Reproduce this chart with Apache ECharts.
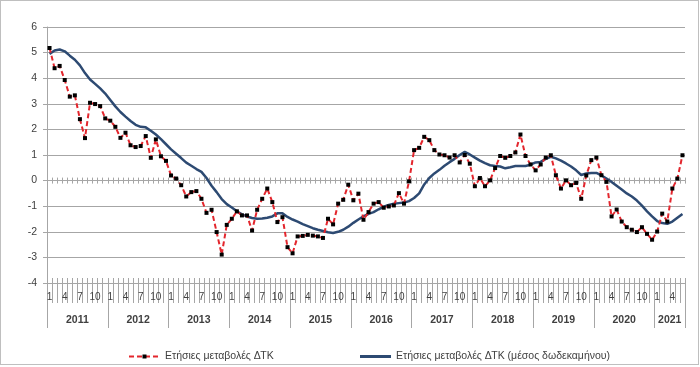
<!DOCTYPE html>
<html><head><meta charset="utf-8">
<script src="https://cdn.jsdelivr.net/npm/echarts@6/dist/echarts.min.js"></script>
<style>
html,body{margin:0;padding:0;background:#fff}
#c{width:700px;height:367px;position:absolute;left:0;top:0}
#frame{position:absolute;left:0;top:0;width:697px;height:363px;border:1px solid #bfbfbf;pointer-events:none}
</style>
</head><body><div id="c"></div><div id="frame"></div>
<script>
const years = ['2011','2012','2013','2014','2015','2016','2017','2018','2019','2020','2021'];
const monthsPerYear = [12,12,12,12,12,12,12,12,12,12,6];
const monthNames = ['1','2','3','4','5','6','7','8','9','10','11','12'];
const yMin = -4, yMax = 6, yStep = 1;

// Ετήσιες μεταβολές ΔΤΚ (monthly, Jan 2011 - Jun 2021)
const inflation = [
  5.18, 4.39, 4.48, 3.93, 3.28, 3.33, 2.40, 1.66, 3.04, 2.99, 2.91, 2.43,
  2.34, 2.10, 1.67, 1.87, 1.38, 1.31, 1.35, 1.74, 0.89, 1.61, 0.95, 0.77,
  0.20, 0.08, -0.18, -0.62, -0.45, -0.41, -0.71, -1.26, -1.14, -2.01, -2.89, -1.73,
  -1.49, -1.20, -1.36, -1.36, -1.95, -1.14, -0.71, -0.31, -0.84, -1.62, -1.43, -2.60,
  -2.84, -2.18, -2.16, -2.12, -2.15, -2.18, -2.24, -1.49, -1.71, -0.90, -0.75, -0.16,
  -0.77, -0.51, -1.53, -1.23, -0.90, -0.84, -1.06, -1.01, -0.97, -0.49, -0.90, -0.03,
  1.19, 1.28, 1.71, 1.58, 1.19, 1.02, 0.99, 0.90, 0.99, 0.71, 1.00, 0.66,
  -0.22, 0.10, -0.22, 0.01, 0.49, 0.96, 0.89, 0.96, 1.10, 1.80, 0.96, 0.63,
  0.40, 0.63, 0.90, 0.99, 0.21, -0.31, 0.01, -0.18, -0.09, -0.71, 0.20, 0.80,
  0.90, 0.21, -0.05, -1.40, -1.13, -1.60, -1.82, -1.92, -2.01, -1.82, -2.08, -2.31,
  -1.99, -1.29, -1.60, -0.31, 0.08, 0.99
];
// Ετήσιες μεταβολές ΔΤΚ (μέσος δωδεκαμήνου)
const avg12 = [
  4.95, 5.08, 5.12, 5.05, 4.88, 4.72, 4.50, 4.20, 3.95, 3.78, 3.60, 3.40,
  3.15, 2.90, 2.68, 2.50, 2.33, 2.18, 2.10, 2.08, 1.95, 1.80, 1.62, 1.42,
  1.22, 1.05, 0.88, 0.70, 0.58, 0.45, 0.34, 0.10, -0.20, -0.45, -0.72, -0.92,
  -1.05, -1.20, -1.32, -1.40, -1.46, -1.49, -1.48, -1.45, -1.40, -1.28, -1.28, -1.42,
  -1.52, -1.60, -1.70, -1.78, -1.86, -1.92, -1.97, -2.02, -2.05, -2.00, -1.92, -1.80,
  -1.65, -1.52, -1.40, -1.30, -1.23, -1.12, -1.02, -0.95, -0.90, -0.88, -0.86, -0.80,
  -0.68, -0.50, -0.15, 0.10, 0.28, 0.42, 0.58, 0.72, 0.85, 1.00, 1.12, 1.02,
  0.90, 0.78, 0.68, 0.60, 0.57, 0.55, 0.48, 0.52, 0.57, 0.57, 0.57, 0.62,
  0.71, 0.73, 0.85, 0.93, 0.87, 0.78, 0.67, 0.55, 0.40, 0.22, 0.28, 0.30,
  0.30, 0.20, 0.08, -0.05, -0.20, -0.35, -0.50, -0.62, -0.78, -0.98, -1.20, -1.40,
  -1.58, -1.66, -1.69, -1.60, -1.45, -1.30
];
const seriesNames = ['Ετήσιες μεταβολές ΔΤΚ', 'Ετήσιες μεταβολές ΔΤΚ (μέσος δωδεκαμήνου)'];

const monthCats = [], yearCats = [];
years.forEach((y, k) => { for (let m = 0; m < monthsPerYear[k]; m++) { monthCats.push(monthNames[m]); yearCats.push(y); } });
const yearMid = new Set(); let start = 0;
monthsPerYear.forEach(c => { yearMid.add(start + c / 2 - 1); start += c; });

const FONT = 'Liberation Sans';
const gray = '#a6a6a6';
const txt = '#404040';
const red = '#e3262d', blue = '#2d4a72';
const rect = {left: 47, right: 15, top: 27, bottom: 84};
const tick = (extra) => Object.assign({show: true, lineStyle: {color: gray, width: 1}}, extra);

const chart = echarts.init(document.getElementById('c'));
chart.setOption({
  animation: false,
  backgroundColor: '#fff',
  textStyle: {fontFamily: FONT},
  grid: [0, 1, 2, 3].map(() => Object.assign({}, rect)),
  legend: [
    {left: 123, top: 346, itemWidth: 31, itemHeight: 5,
     textStyle: {fontFamily: FONT, fontSize: 10.5, color: txt},
     data: [seriesNames[0]]},
    {left: 355, top: 346, itemWidth: 31, itemHeight: 3, icon: 'rect',
     textStyle: {fontFamily: FONT, fontSize: 10.5, color: txt},
     data: [seriesNames[1]]}
  ],
  xAxis: [
    {gridIndex: 0, type: 'category', data: monthCats, position: 'bottom', boundaryGap: true,
     axisLine: {show: true, onZero: false, lineStyle: {color: gray}},
     axisTick: tick({interval: 0, length: 20}),
     axisLabel: {show: true, interval: (i) => i % 3 === 0, margin: 9, fontSize: 10, color: txt, fontFamily: FONT},
     splitLine: {show: false}},
    {gridIndex: 0, type: 'category', data: monthCats, position: 'top', boundaryGap: true,
     axisLine: {show: true, onZero: true, lineStyle: {color: gray}},
     axisTick: tick({interval: 0, length: 3}),
     axisLabel: {show: false}, splitLine: {show: false}},
    {gridIndex: 1, type: 'category', data: monthCats, position: 'bottom', boundaryGap: true,
     axisLine: {show: true, onZero: true, lineStyle: {color: gray}},
     axisTick: tick({interval: 0, length: 3}),
     axisLabel: {show: false}, splitLine: {show: false}},
    {gridIndex: 2, type: 'category', data: monthCats, position: 'bottom', boundaryGap: true,
     axisLine: {show: false, onZero: false},
     axisTick: tick({interval: 0, inside: true, length: 5}),
     axisLabel: {show: false}, splitLine: {show: false}},
    {gridIndex: 3, type: 'category', data: yearCats, position: 'bottom', boundaryGap: true,
     axisLine: {show: false, onZero: false},
     axisTick: tick({interval: (i) => i % 12 === 0, length: 45}),
     axisLabel: {show: true, interval: (i) => yearMid.has(i), margin: 32, padding: [0, 0, 0, 5],
                 fontSize: 10.5, fontWeight: 'bold', color: txt, fontFamily: FONT},
     splitLine: {show: false}}
  ],
  yAxis: [
    {gridIndex: 0, type: 'value', min: yMin, max: yMax, interval: yStep,
     axisLine: {show: true, lineStyle: {color: gray}},
     axisTick: tick({length: 4}),
     axisLabel: {fontSize: 10.5, color: txt, margin: 10, fontFamily: FONT},
     splitLine: {show: true, lineStyle: {color: gray, width: 1}}},
    {gridIndex: 1, type: 'value', min: yMin, max: yMax, interval: yStep, show: false},
    {gridIndex: 2, type: 'value', min: yMin, max: yMax, interval: yStep, show: false},
    {gridIndex: 3, type: 'value', min: yMin, max: yMax, interval: yStep, show: false}
  ],
  series: [
    {name: seriesNames[1], type: 'line', xAxisIndex: 0, yAxisIndex: 0, data: avg12,
     symbol: 'none', lineStyle: {color: blue, width: 2.5}, itemStyle: {color: blue}, z: 2},
    {name: seriesNames[0], type: 'line', xAxisIndex: 0, yAxisIndex: 0, data: inflation,
     symbol: 'rect', symbolSize: 4, showAllSymbol: true,
     itemStyle: {color: '#000'}, lineStyle: {color: red, width: 2, type: [5, 3]}, z: 3}
  ]
});
</script>
</body></html>
